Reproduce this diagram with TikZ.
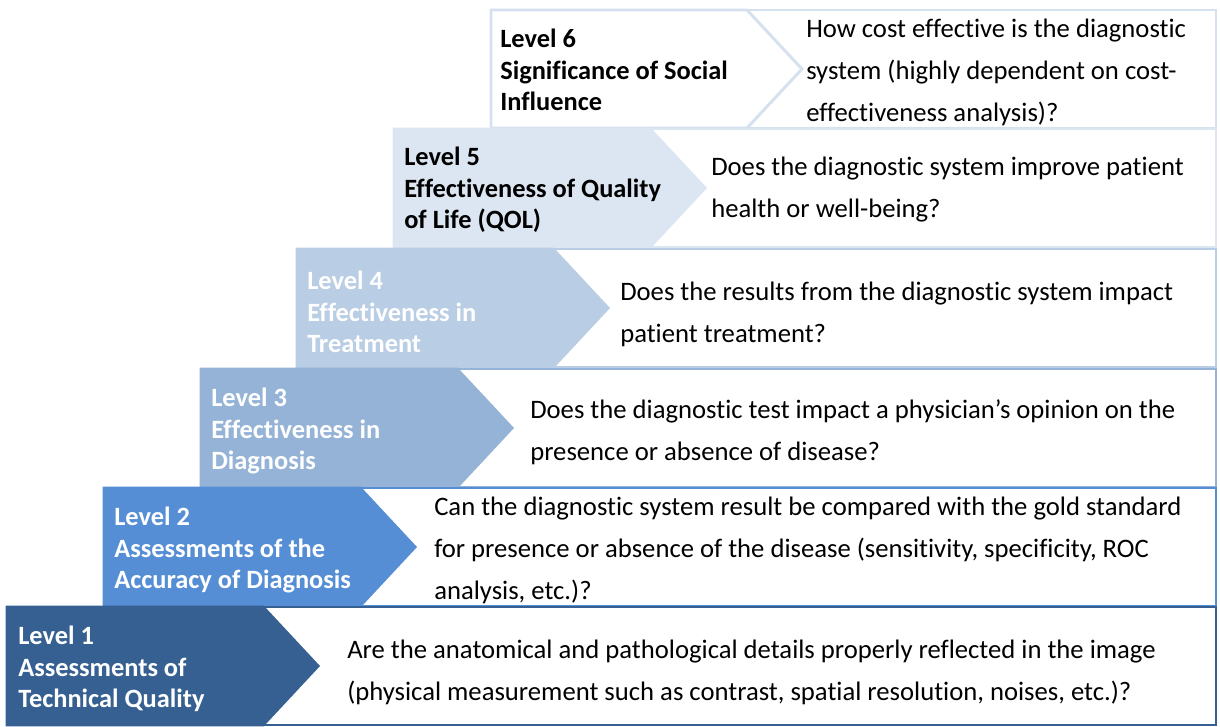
\documentclass[tikz,border=0pt]{standalone}
\usepackage{fontspec}
\setmainfont{Carlito}[Ligatures=NoCommon]
\definecolor{cA}{HTML}{376092}
\definecolor{cB}{HTML}{558ED5}
\definecolor{cC}{HTML}{95B3D7}
\definecolor{cD}{HTML}{B9CDE5}
\definecolor{cE}{HTML}{DCE6F2}
\definecolor{cF}{HTML}{D6E1F0}
\tikzset{
  qbox/.style={line width=2.2pt, fill=white},
  ctext/.style={anchor=west, align=left, inner sep=0pt, font=\fontsize{19.8}{23.6}\selectfont\bfseries},
  qtext/.style={anchor=west, align=left, inner sep=0pt, font=\fontsize{20}{31.5}\selectfont, text=black},
}
\newcommand{\levelrow}[5]{%
  % #1 left, #2 top, #3 border color, #4 chevron fill, #5 name
  \draw[qbox, draw=#3] (#1+120,#2) rectangle (1216,#2+118);
  \draw[line width=2.2pt, draw=#3, fill=#4, line join=miter]
    (#1,#2) -- (#1+256,#2) -- (#1+311,#2+59) -- (#1+256,#2+118) -- (#1,#2+118) -- cycle;
  \coordinate (#5) at (#1,#2+59);
}
\begin{document}
\begin{tikzpicture}[x=0.75pt,y=-0.75pt]
\useasboundingbox (0,0) rectangle (1220,726);
\levelrow{491}{10}{cF}{white}{c6}
\levelrow{394}{129}{cE}{cE}{c5}
\levelrow{297}{249}{cD}{cD}{c4}
\levelrow{201}{369}{cC}{cC}{c3}
\levelrow{104}{488}{cB}{cB}{c2}
\levelrow{7}{607}{cA}{cA}{c1}
% chevron texts
\node[ctext, text=black] (t6) at (500,70) {Level 6\\Significance of Social\\Influence};
\node[ctext, text=black] (t5) at (404,190) {Level 5\\Effectiveness of Quality\\of Life (QOL)};
\node[ctext, text=white] (t4) at (307,312) {Level 4\\Effectiveness in\\Treatment};
\node[ctext, text=white] (t3) at (211,431) {Level 3\\Effectiveness in\\Diagnosis};
\node[ctext, text=white] (t2) at (114,550) {Level 2\\Assessments of the\\Accuracy of Diagnosis};
\node[ctext, text=white] (t1) at (18,669) {Level 1\\Assessments of\\Technical Quality};
% question texts
\node[qtext] (q6) at (806,72) {How cost effective is the diagnostic\\system (highly dependent on cost-\\effectiveness analysis)?};
\node[qtext] (q5) at (711,190) {Does the diagnostic system improve patient\\health or well-being?};
\node[qtext] (q4) at (620,314) {Does the results from the diagnostic system impact\\patient treatment?};
\node[qtext] (q3) at (530,432) {Does the diagnostic test impact a physician’s opinion on the\\presence or absence of disease?};
\node[qtext] (q2) at (434,550) {Can the diagnostic system result be compared with the gold standard\\for presence or absence of the disease (sensitivity, specificity, ROC\\analysis, etc.)?};
\node[qtext] (q1) at (347,672) {Are the anatomical and pathological details properly reflected in the image\\(physical measurement such as contrast, spatial resolution, noises, etc.)?};
\end{tikzpicture}
\end{document}
